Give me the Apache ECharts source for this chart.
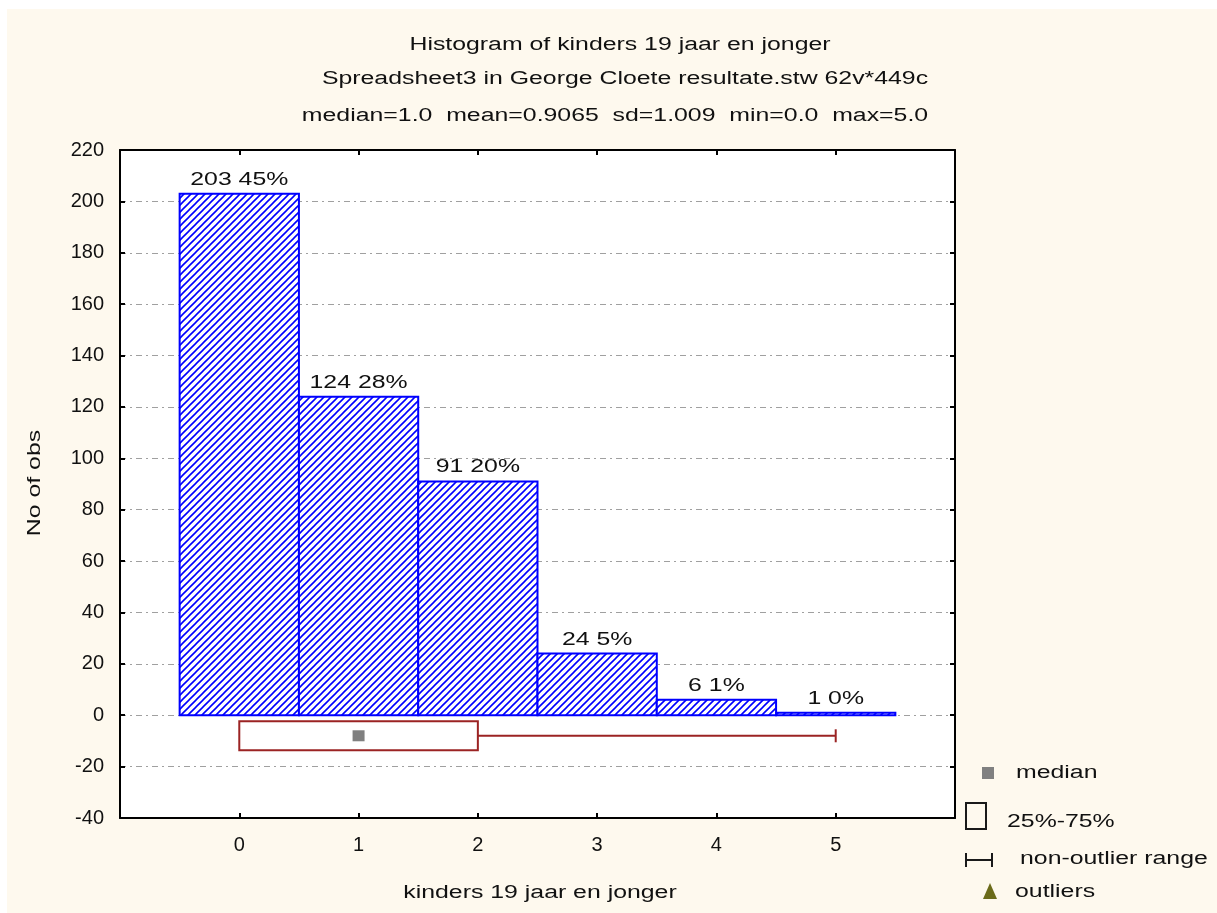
<!DOCTYPE html>
<html>
<head>
<meta charset="utf-8">
<title>Histogram of kinders 19 jaar en jonger</title>
<script src="https://cdn.jsdelivr.net/npm/echarts@6/dist/echarts.min.js"></script>
<style>
    html, body {margin: 0; padding: 0; background: #ffffff;}
    #container {width: 1217px; height: 913px;}
</style>
</head>
<body>
<div id="container"></div>
<script type="text/javascript">

    // histogram data
    var categories = [0, 1, 2, 3, 4, 5];
    var counts = [203, 124, 91, 24, 6, 1];
    var yTicks = [-40, -20, 0, 20, 40, 60, 80, 100, 120, 140, 160, 180, 200, 220];
    var xTicks = [0, 1, 2, 3, 4, 5];

    // box plot summary (median / quartiles / non-outlier range) and the level it is drawn at
    var boxStats = [0, 0, 1, 2, 5];   // min, q1, median, q3, max
    var boxLevel = [-8];

    var titleLines = [
        'Histogram of kinders 19 jaar en jonger',
        'Spreadsheet3 in George Cloete resultate.stw 62v*449c',
        'median=1.0  mean=0.9065  sd=1.009  min=0.0  max=5.0'
    ];

    var total = 0;
    for (var i = 0; i < counts.length; i++) { total += counts[i]; }

    var FONT = '"Liberation Sans", Arial, sans-serif';
    var TXT = '#111111';
    var STRETCH = 1.38;

    // hatch pattern for the bars
    var hatch = document.createElement('canvas');
    hatch.width = 7;
    hatch.height = 7;
    var hc = hatch.getContext('2d');
    hc.fillStyle = '#ffffff';
    hc.fillRect(0, 0, 7, 7);
    hc.strokeStyle = '#0000ff';
    hc.lineWidth = 1.6;
    hc.beginPath();
    hc.moveTo(0, 7); hc.lineTo(7, 0);
    hc.moveTo(-1, 1); hc.lineTo(1, -1);
    hc.moveTo(6, 8); hc.lineTo(8, 6);
    hc.stroke();

    var histData = [];
    for (var j = 0; j < categories.length; j++) {
        histData.push([categories[j], counts[j]]);
    }

    function wideText(x, y, text, opts) {
        opts = opts || {};
        return {
            type: 'text',
            x: x,
            y: y,
            rotation: opts.rotation || 0,
            scaleX: STRETCH,
            z: 10,
            style: {
                text: text,
                font: (opts.size || 18) + 'px ' + FONT,
                fill: TXT,
                textAlign: opts.align || 'center',
                textVerticalAlign: 'middle'
            }
        };
    }

    var dom = document.getElementById("container");
    var myChart = echarts.init(dom, null, {renderer: 'canvas'});
    var option = null;

    var axisLine = {show: true, onZero: false, lineStyle: {color: '#000', width: 2}};
    var axisTick = {show: true, inside: true, length: 5, lineStyle: {color: '#000', width: 2}};

    option = {
        backgroundColor: '#ffffff',
        animation: false,
        grid: {
            left: 120, right: 262, top: 150, bottom: 95,
            show: true, backgroundColor: '#ffffff', borderWidth: 0
        },
        graphic: [
            {type: 'rect', z: -100, shape: {x: 7, y: 9, width: 1210, height: 904}, style: {fill: '#fef9ee'}, silent: true},
            wideText(620, 45, titleLines[0]),
            wideText(625, 79, titleLines[1]),
            wideText(615, 116, titleLines[2]),
            wideText(35, 483, 'No of obs', {rotation: Math.PI / 2}),
            wideText(540, 893, 'kinders 19 jaar en jonger'),
            // legend of the box plot
            {type: 'rect', z: 10, shape: {x: 982, y: 767, width: 12, height: 12}, style: {fill: '#808080'}},
            wideText(1016, 773, 'median', {align: 'left'}),
            {type: 'rect', z: 10, shape: {x: 966, y: 803, width: 20, height: 26}, style: {fill: 'none', stroke: '#1a1a1a', lineWidth: 2}},
            wideText(1007, 822, '25%-75%', {align: 'left'}),
            {type: 'polyline', z: 10, shape: {points: [[966, 853], [966, 867]]}, style: {stroke: '#1a1a1a', lineWidth: 2}},
            {type: 'polyline', z: 10, shape: {points: [[966, 860], [992, 860]]}, style: {stroke: '#1a1a1a', lineWidth: 2}},
            {type: 'polyline', z: 10, shape: {points: [[992, 853], [992, 867]]}, style: {stroke: '#1a1a1a', lineWidth: 2}},
            wideText(1020, 859, 'non-outlier range', {align: 'left'}),
            {type: 'polygon', z: 10, shape: {points: [[990, 883], [983, 899], [997, 899]]}, style: {fill: '#6b6b1a'}},
            wideText(1015, 892, 'outliers', {align: 'left'})
        ],
        xAxis: [
            {
                type: 'value', position: 'bottom', min: -1, max: 6, interval: 1,
                axisLine: axisLine, axisTick: axisTick, splitLine: {show: false},
                axisLabel: {
                    margin: 17, fontSize: 20, fontFamily: FONT, color: TXT,
                    formatter: function (v) { return xTicks.indexOf(v) >= 0 ? String(v) : ''; }
                }
            },
            {
                type: 'value', position: 'top', min: -1, max: 6, interval: 1,
                axisLine: axisLine, axisTick: axisTick, splitLine: {show: false},
                axisLabel: {show: false}
            }
        ],
        yAxis: [
            {
                type: 'value', position: 'left', min: yTicks[0], max: yTicks[yTicks.length - 1], interval: 20,
                axisLine: axisLine, axisTick: axisTick,
                splitLine: {show: true, lineStyle: {color: '#a0a0a0', width: 1, type: [6, 4, 2, 4]}},
                axisLabel: {margin: 16, fontSize: 20, fontFamily: FONT, color: TXT}
            },
            {
                type: 'value', position: 'right', min: yTicks[0], max: yTicks[yTicks.length - 1], interval: 20,
                axisLine: axisLine, axisTick: axisTick, splitLine: {show: false},
                axisLabel: {show: false}
            }
        ],
        series: [
            {
                name: 'histogram',
                type: 'custom',
                xAxisIndex: 0,
                yAxisIndex: 0,
                data: histData,
                renderItem: function (params, api) {
                    var x = api.value(0);
                    var v = api.value(1);
                    var p0 = api.coord([x - 0.5, 0]);
                    var p1 = api.coord([x + 0.5, v]);
                    var pct = Math.round(v / total * 100);
                    return {
                        type: 'group',
                        children: [
                            {
                                type: 'rect',
                                shape: {x: p0[0], y: p1[1], width: p1[0] - p0[0], height: p0[1] - p1[1]},
                                style: {fill: {image: hatch, repeat: 'repeat'}, stroke: '#0000ff', lineWidth: 2}
                            },
                            {
                                type: 'text',
                                x: (p0[0] + p1[0]) / 2,
                                y: p1[1] - 5,
                                scaleX: STRETCH,
                                style: {
                                    text: v + ' ' + pct + '%',
                                    font: '18px ' + FONT,
                                    fill: TXT,
                                    textAlign: 'center',
                                    textVerticalAlign: 'bottom'
                                }
                            }
                        ]
                    };
                }
            },
            {
                name: 'boxplot',
                type: 'custom',
                xAxisIndex: 0,
                yAxisIndex: 0,
                data: [boxStats.concat(boxLevel)],
                renderItem: function (params, api) {
                    var lvl = api.value(5);
                    var pMin = api.coord([api.value(0), lvl]);
                    var pQ1 = api.coord([api.value(1), lvl]);
                    var pMed = api.coord([api.value(2), lvl]);
                    var pQ3 = api.coord([api.value(3), lvl]);
                    var pMax = api.coord([api.value(4), lvl]);
                    var red = '#9b2323';
                    var half = 14.5;
                    return {
                        type: 'group',
                        children: [
                            {
                                type: 'line',
                                shape: {x1: pMin[0], y1: pMin[1], x2: pQ1[0], y2: pQ1[1]},
                                style: {stroke: red, lineWidth: 2}
                            },
                            {
                                type: 'line',
                                shape: {x1: pQ3[0], y1: pQ3[1], x2: pMax[0], y2: pMax[1]},
                                style: {stroke: red, lineWidth: 2}
                            },
                            {
                                type: 'line',
                                shape: {x1: pMax[0], y1: pMax[1] - 6.5, x2: pMax[0], y2: pMax[1] + 6.5},
                                style: {stroke: red, lineWidth: 2}
                            },
                            {
                                type: 'rect',
                                shape: {x: pQ1[0], y: pQ1[1] - half, width: pQ3[0] - pQ1[0], height: half * 2},
                                style: {fill: '#ffffff', stroke: red, lineWidth: 2}
                            },
                            {
                                type: 'rect',
                                shape: {x: pMed[0] - 6, y: pMed[1] - 5.5, width: 12, height: 11},
                                style: {fill: '#808080'}
                            }
                        ]
                    };
                }
            }
        ]
    };

    if (option && typeof option === "object") {
        myChart.setOption(option, true);
    }
</script>
</body>
</html>
